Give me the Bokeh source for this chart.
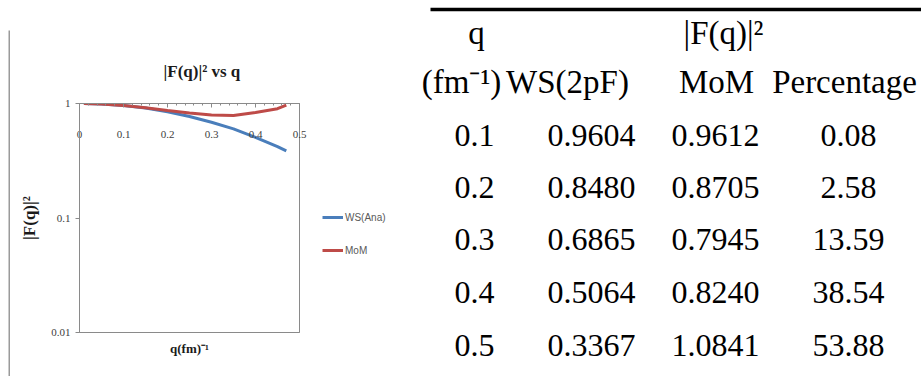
from bokeh.plotting import figure
from bokeh.models import (Range1d, LinearAxis, FixedTicker, Legend, LegendItem,
                          ColumnDataSource, CustomJSTickFormatter)
from bokeh.layouts import row
from bokeh.core.properties import value
from bokeh.embed import file_html
from bokeh.resources import INLINE

# ---------------- chart data ----------------
q_curve = [0.01, 0.05, 0.10, 0.15, 0.20, 0.25, 0.30, 0.35, 0.40, 0.45, 0.47]
ws_ana = [1.0, 0.99, 0.96, 0.915, 0.848, 0.77, 0.6865, 0.60, 0.5064, 0.42, 0.385]
mom = [1.0, 0.99, 0.962, 0.92, 0.87, 0.825, 0.795, 0.785, 0.835, 0.90, 0.97]
series_names = ["WS(Ana)", "MoM"]
series_colors = ["#4A7EBB", "#BE4B48"]
x_ticks = [0, 0.1, 0.2, 0.3, 0.4, 0.5]
y_ticks = [0.01, 0.1, 1]

# ---------------- table data ----------------
tbl_q = ["0.1", "0.2", "0.3", "0.4", "0.5"]
tbl_ws = ["0.9604", "0.8480", "0.6865", "0.5064", "0.3367"]
tbl_mom = ["0.9612", "0.8705", "0.7945", "0.8240", "1.0841"]
tbl_pct = ["0.08", "2.58", "13.59", "38.54", "53.88"]
hdr1 = ["q", "|F(q)|²"]
hdr2 = ["(fm⁻¹)", "WS(2pF)", "MoM", "Percentage"]

# ---------------- layout constants ----------------
GRAY = "#8a8a8a"
SERIF = "Liberation Serif"


def bare(fig):
    if "frame_align" in fig.properties():
        fig.frame_align = False
    fig.grid.visible = False
    fig.outline_line_color = None


def pixel_fig(width, x0):
    f = figure(width=width, height=376, x_range=Range1d(x0, x0 + width),
               y_range=Range1d(376, 0), output_backend="svg", toolbar_location=None,
               x_axis_location=None, y_axis_location=None, min_border=0)
    bare(f)
    return f


# thin strip holding the left edge of the chart box
b = pixel_fig(10, 0)
b.segment(x0=[9], y0=[30], x1=[9], y1=[376], line_color="#9a9a9a", line_width=2)

# ---------------- chart ----------------
p = figure(width=300, height=376, x_range=Range1d(0, 0.5), y_range=Range1d(0.01, 1),
           y_axis_type="log", x_axis_location="above",
           output_backend="svg", toolbar_location=None,
           min_border_left=69, min_border_right=11, min_border_top=103,
           min_border_bottom=44)
if "frame_align" in p.properties():
    p.frame_align = False
p.grid.visible = False
p.outline_line_color = GRAY

p.title.text = "|F(q)|² vs q"
p.title.align = "left"
p.title.offset = 84
p.title.standoff = 45
p.title.text_font = SERIF
p.title.text_font_style = "bold"
p.title.text_font_size = "17px"
p.title.text_color = "#1a1a1a"

xa = p.xaxis[0]
xa.ticker = FixedTicker(ticks=x_ticks, minor_ticks=[i / 50 for i in range(26)])
xa.formatter = CustomJSTickFormatter(code="return String(Math.round(tick*10)/10)")
xa.axis_line_color = GRAY
xa.major_tick_in = 4
xa.major_tick_out = 0
xa.minor_tick_in = 2
xa.minor_tick_out = 0
xa.major_tick_line_color = GRAY
xa.minor_tick_line_color = GRAY
xa.major_label_standoff = -34
xa.major_label_text_font = SERIF
xa.major_label_text_font_size = "11px"
xa.major_label_text_color = "#404040"

xb = LinearAxis(ticker=FixedTicker(ticks=[]), axis_label="q(fm)⁻¹")
xb.axis_line_color = GRAY
xb.major_tick_line_color = None
xb.minor_tick_line_color = None
xb.major_label_text_font_size = "0px"
xb.axis_label_standoff = 8
xb.axis_label_text_font = SERIF
xb.axis_label_text_font_style = "bold"
xb.axis_label_text_font_size = "13px"
xb.axis_label_text_color = "#1a1a1a"
p.add_layout(xb, "below")

ya = p.yaxis[0]
ya.ticker = FixedTicker(ticks=y_ticks)
ya.formatter = CustomJSTickFormatter(code="return tick.toString()")
ya.axis_line_color = GRAY
ya.major_tick_out = 4
ya.major_tick_in = 0
ya.major_tick_line_color = GRAY
ya.minor_tick_line_color = None
ya.major_label_standoff = 5
ya.major_label_text_font = SERIF
ya.major_label_text_font_size = "11px"
ya.major_label_text_color = "#404040"
ya.axis_label = "|F(q)|²"
ya.axis_label_standoff = 9
ya.axis_label_text_font = SERIF
ya.axis_label_text_font_style = "bold"
ya.axis_label_text_font_size = "17px"
ya.axis_label_text_color = "#1a1a1a"

src = ColumnDataSource(dict(q=q_curve, ws=ws_ana, mom=mom))
p.line("q", "ws", source=src, line_color=series_colors[0], line_width=3)
p.line("q", "mom", source=src, line_color=series_colors[1], line_width=3)

# ---------------- legend strip (same series, drawn outside its view) ----------------
L = pixel_fig(110, 310)
items = []
for name, col, color in zip(series_names, ["ws", "mom"], series_colors):
    r = L.line("q", col, source=src, line_color=color, line_width=3)
    items.append(LegendItem(label=name, renderers=[r]))
legend = Legend(items=items, location=(12, 116), orientation="vertical")
legend.border_line_color = None
legend.background_fill_alpha = 0
legend.padding = 0
legend.margin = 0
legend.spacing = 13
legend.glyph_height = 20
legend.glyph_width = 21
legend.label_height = 20
legend.label_standoff = 2
legend.label_text_font = "Liberation Sans"
legend.label_text_font_size = "10px"
legend.label_text_color = "#595959"
L.add_layout(legend, "center")

# ---------------- table ----------------
t = pixel_fig(501, 420)
t.segment(x0=[430], y0=[9], x1=[921], y1=[9], line_color="black", line_width=3.5)

hdr1_x = [476, 723]
hdr2_x = [461, 567, 716, 844]
t.text(x=hdr1_x, y=[32] * len(hdr1), text=hdr1, text_font=value(SERIF),
       text_font_size="33px", text_align="center", text_baseline="alphabetic",
       text_color="black")
t.text(x=hdr2_x, y=[81] * len(hdr2), text=hdr2, text_font=value(SERIF),
       text_font_size="33px", text_align="center", text_baseline="alphabetic",
       text_color="black")

col_x = [474, 591, 715, 848]
row_y = [135, 187, 239, 292, 345]
for cx, col in zip(col_x, [tbl_q, tbl_ws, tbl_mom, tbl_pct]):
    t.text(x=[cx] * len(col), y=row_y, text=col, text_font=value(SERIF),
           text_font_size="32px", text_align="center", text_baseline="alphabetic",
           text_color="black")

layout = row(b, p, L, t, spacing=0)
open("out.html", "w").write(file_html(layout, INLINE))
